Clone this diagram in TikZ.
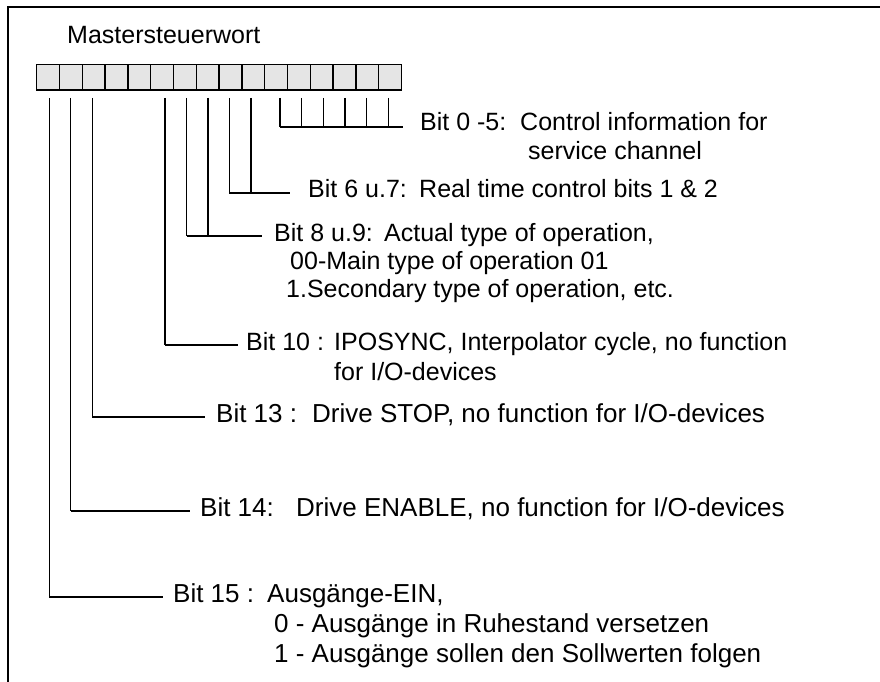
\documentclass[tikz,border=0pt]{standalone}
\usepackage{fontspec}
\setmainfont{Liberation Sans}
\begin{document}
\begin{tikzpicture}[x=1pt,y=-1pt]
\tikzset{
  cell/.style={draw=black, fill=black!10, line width=1.3pt, minimum width=22.8pt, minimum height=25.7pt, inner sep=0pt, outer sep=0pt},
  lead/.style={line width=1.3pt},
  lbl/.style={anchor=base west, inner sep=0pt, font=\fontsize{25}{29}\selectfont},
  lblb/.style={anchor=base west, inner sep=0pt, font=\fontsize{26}{30}\selectfont},
  frame/.style={line width=2pt}
}
\useasboundingbox (0,0) rectangle (880,682);
\coordinate (fb) at (7.5,682);
\coordinate (fc) at (7.5,7.5);
\coordinate (fr) at (880,7.5);
\draw[frame] (fb) -- (fc) -- (fr);

\node[lbl] (title) at (67,43.5) {Mastersteuerwort};

\foreach \i in {0,...,15} {
  \pgfmathtruncatemacro{\b}{15-\i}
  \node[cell] (bit\b) at ({48.1+22.8*\i},77.2) {};
}

\foreach \b/\x/\y in {15/49.3/597, 14/70.7/511, 13/92.3/417, 10/165/345, 9/186.7/236, 8/208/236, 7/229.3/193, 6/251/193, 5/280/127, 4/301.7/127, 3/323.3/127, 2/345/127, 1/366.7/127, 0/388.3/127} {
  \coordinate (t\b) at (\x,98);
  \coordinate (h\b) at (\x,\y);
  \draw[lead] (t\b) -- (h\b);
}
\coordinate (e05) at (403,127);
\coordinate (e67) at (290,193);
\coordinate (e89) at (262,236);
\coordinate (e10) at (238,345);
\coordinate (e13) at (205,417);
\coordinate (e14) at (190,511);
\coordinate (e15) at (163,597);
\draw[lead] (h5) -- (e05);
\draw[lead] (h7) -- (e67);
\draw[lead] (h9) -- (e89);
\draw[lead] (h10) -- (e10);
\draw[lead] (h13) -- (e13);
\draw[lead] (h14) -- (e14);
\draw[lead] (h15) -- (e15);

% labels
\node[lbl] (l05) at (420,131) {Bit 0 -5:};
\node[lbl] (d05a) at (520,131) {Control information for};
\node[lbl] (d05b) at (528,159) {service channel};

\node[lbl] (l67) at (308,197) {Bit 6 u.7:};
\node[lbl] (d67) at (419,197) {Real time control bits 1 \& 2};

\node[lbl] (l89) at (274,241) {Bit 8 u.9:};
\node[lbl] (d89a) at (384,241) {Actual type of operation,};
\node[lbl] (d89b) at (290,269) {00-Main type of operation 01};
\node[lbl] (d89c) at (286,297) {1.Secondary type of operation, etc.};

\node[lbl] (l10) at (246,350) {Bit 10 :};
\node[lbl] (d10a) at (334,350) {IPOSYNC, Interpolator cycle, no function};
\node[lbl] (d10b) at (334,380) {for I/O-devices};

\node[lblb] (l13) at (216,422) {Bit 13 :};
\node[lblb] (d13) at (312,422) {Drive STOP, no function for I/O-devices};

\node[lblb] (l14) at (200,516) {Bit 14:};
\node[lblb] (d14) at (296,516) {Drive ENABLE, no function for I/O-devices};

\node[lblb] (l15) at (173,602) {Bit 15 :};
\node[lblb] (d15a) at (267,602) {Ausgänge-EIN,};
\node[lblb] (d15b) at (274,632) {0 - Ausgänge in Ruhestand versetzen};
\node[lblb] (d15c) at (274,662) {1 - Ausgänge sollen den Sollwerten folgen};
\end{tikzpicture}
\end{document}
